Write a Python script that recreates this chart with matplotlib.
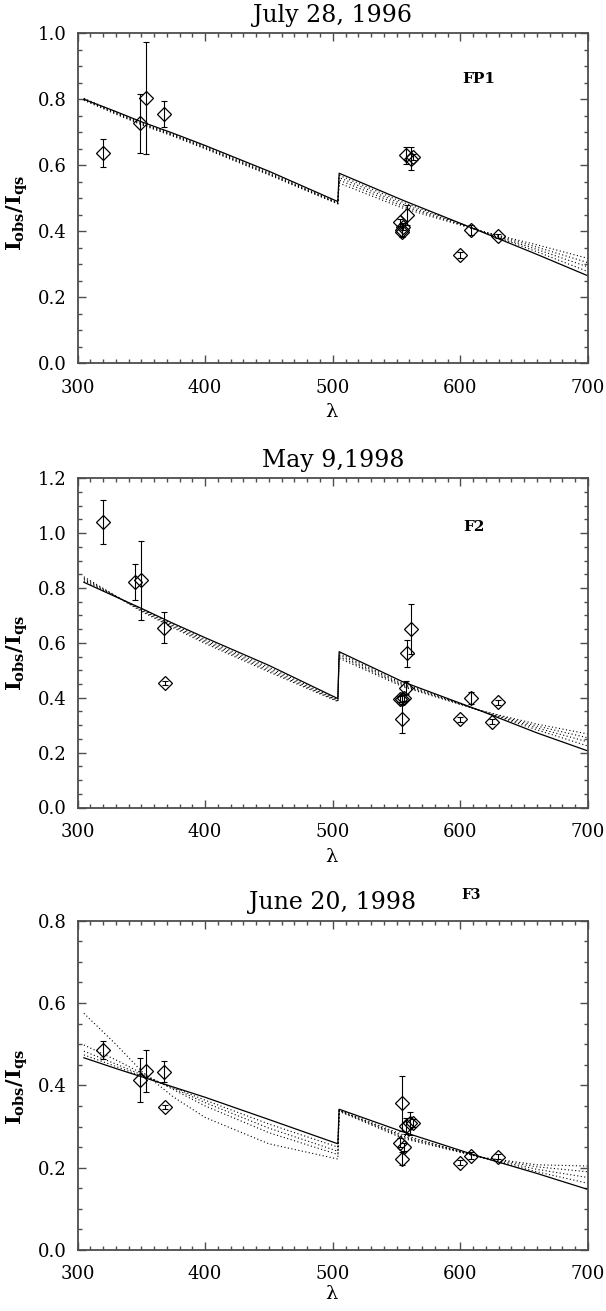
"""Observed vs model intensity ratio for three flare dates."""

import matplotlib
matplotlib.use("Agg")
import matplotlib.pyplot as plt
from matplotlib.ticker import MultipleLocator, FormatStrFormatter

plt.rcParams["font.family"] = ["DejaVu Serif"]
plt.rcParams["mathtext.fontset"] = "dejavuserif"

# ---- data ----
titles = ["July 28, 1996", "May 9,1998", "June 20, 1998"]
tags = ["FP1", "F2", "F3"]
y_tops = [1.0, 1.2, 0.8]

lam_left = [305, 330, 350, 375, 400, 450, 504]
lam_right = [505, 555, 615, 660, 700]

# panel 1: July 28, 1996
lam_obs_1 = [319.7, 349.3, 353.6, 368.0, 557.5, 561.0, 562.5, 557.8, 553.0,
             554.5, 555.0, 554.0, 608.0, 599.5, 629.8]
i_obs_1 = [0.638, 0.727, 0.805, 0.755, 0.630, 0.620, 0.625, 0.450, 0.427,
           0.405, 0.414, 0.397, 0.404, 0.328, 0.387]
err_1 = [0.042, 0.090, 0.170, 0.040, 0.026, 0.035, 0.010, 0.030, 0.010,
         0.020, 0.010, 0.015, 0.015, 0.008, 0.006]
solid_left_1 = [0.800, 0.763, 0.732, 0.697, 0.660, 0.582, 0.490]
solid_right_1 = [0.576, 0.494, 0.401, 0.330, 0.265]
dotted_left_1 = [
    [0.803, 0.761, 0.729, 0.694, 0.657, 0.578, 0.487],
    [0.801, 0.759, 0.727, 0.692, 0.654, 0.575, 0.485],
    [0.799, 0.757, 0.725, 0.690, 0.652, 0.573, 0.484],
    [0.797, 0.755, 0.723, 0.688, 0.650, 0.571, 0.483],
]
dotted_right_1 = [
    [0.570, 0.488, 0.402, 0.338, 0.278],
    [0.563, 0.482, 0.402, 0.345, 0.292],
    [0.555, 0.476, 0.402, 0.352, 0.305],
    [0.546, 0.470, 0.402, 0.359, 0.318],
]

# panel 2: May 9, 1998
lam_obs_2 = [319.7, 345.4, 349.9, 368.0, 368.7, 561.7, 558.1, 557.2, 552.6,
             554.5, 555.5, 554.2, 599.5, 608.0, 624.7, 629.8]
i_obs_2 = [1.041, 0.822, 0.828, 0.656, 0.453, 0.650, 0.562, 0.437, 0.395,
           0.397, 0.400, 0.324, 0.321, 0.398, 0.313, 0.383]
err_2 = [0.080, 0.065, 0.145, 0.055, 0.008, 0.090, 0.050, 0.024, 0.010,
         0.012, 0.010, 0.052, 0.010, 0.022, 0.010, 0.008]
solid_left_2 = [0.821, 0.768, 0.726, 0.671, 0.619, 0.518, 0.397]
solid_right_2 = [0.568, 0.458, 0.354, 0.272, 0.206]
dotted_left_2 = [
    [0.826, 0.770, 0.724, 0.667, 0.613, 0.511, 0.393],
    [0.831, 0.770, 0.721, 0.663, 0.608, 0.505, 0.390],
    [0.836, 0.771, 0.718, 0.659, 0.603, 0.499, 0.388],
    [0.841, 0.771, 0.715, 0.655, 0.598, 0.494, 0.386],
]
dotted_right_2 = [
    [0.562, 0.452, 0.354, 0.283, 0.224],
    [0.556, 0.448, 0.354, 0.290, 0.239],
    [0.550, 0.444, 0.354, 0.297, 0.254],
    [0.544, 0.440, 0.354, 0.304, 0.268],
]

# panel 3: June 20, 1998
lam_obs_3 = [319.7, 349.3, 353.6, 368.0, 368.7, 554.2, 557.2, 560.8, 562.6,
             552.6, 555.7, 554.2, 599.5, 608.0, 629.8]
i_obs_3 = [0.486, 0.413, 0.435, 0.433, 0.348, 0.356, 0.301, 0.308, 0.309,
           0.261, 0.251, 0.222, 0.212, 0.229, 0.227]
err_3 = [0.022, 0.053, 0.050, 0.026, 0.005, 0.067, 0.020, 0.028, 0.010,
         0.010, 0.010, 0.016, 0.006, 0.008, 0.006]
solid_left_3 = [0.467, 0.441, 0.421, 0.396, 0.371, 0.317, 0.258]
solid_right_3 = [0.342, 0.287, 0.227, 0.186, 0.147]
dotted_left_3 = [
    [0.575, 0.500, 0.435, 0.372, 0.322, 0.258, 0.221],
    [0.498, 0.462, 0.430, 0.390, 0.350, 0.285, 0.232],
    [0.483, 0.452, 0.426, 0.393, 0.358, 0.296, 0.240],
    [0.474, 0.446, 0.423, 0.395, 0.364, 0.306, 0.250],
]
dotted_right_3 = [
    [0.340, 0.280, 0.226, 0.190, 0.162],
    [0.339, 0.277, 0.226, 0.196, 0.176],
    [0.338, 0.274, 0.226, 0.202, 0.190],
    [0.337, 0.271, 0.226, 0.207, 0.204],
]

tag_pos = [(614.6, 0.862), (610.3, 1.021), (608.7, 0.862)]

panels = [
    (lam_obs_1, i_obs_1, err_1, solid_left_1, solid_right_1, dotted_left_1, dotted_right_1),
    (lam_obs_2, i_obs_2, err_2, solid_left_2, solid_right_2, dotted_left_2, dotted_right_2),
    (lam_obs_3, i_obs_3, err_3, solid_left_3, solid_right_3, dotted_left_3, dotted_right_3),
]

# ---- layout (figure fractions) ----
W, H = 606, 1311
ax_left = 77.5 / W
ax_width = 510.5 / W
ax_bottoms_px = [363.3, 807.5, 1250.0]
ax_heights_px = [330.0, 329.2, 329.3]
ylabel_y = [0.455, 0.47, 0.495]
xlabel_top_px = [40, 40, 35]
axis_grey = "0.3"

fig = plt.figure(figsize=(W / 100, H / 100), dpi=100)

for k, (lam_obs, i_obs, err, s_left, s_right, d_left, d_right) in enumerate(panels):
    bottom = (H - ax_bottoms_px[k]) / H
    height = ax_heights_px[k] / H
    ax = fig.add_axes([ax_left, bottom, ax_width, height])

    lam_model = lam_left + lam_right
    for dl, dr in zip(d_left, d_right):
        ax.plot(lam_model, dl + dr, color="black", lw=0.8, linestyle=(0, (1, 2.2)))
    ax.plot(lam_model, s_left + s_right, color="black", lw=0.9)

    ax.errorbar(lam_obs, i_obs, yerr=err, fmt="none", ecolor="black",
                elinewidth=0.8, capsize=2.5, capthick=0.8)
    ax.plot(lam_obs, i_obs, linestyle="none", marker="D", markersize=7.5,
            markerfacecolor="none", markeredgecolor="black", markeredgewidth=0.9)

    ax.set_xlim(300, 700)
    ax.set_ylim(0, y_tops[k])
    ax.xaxis.set_major_locator(MultipleLocator(100))
    ax.xaxis.set_minor_locator(MultipleLocator(10))
    ax.yaxis.set_major_locator(MultipleLocator(0.2))
    ax.yaxis.set_minor_locator(MultipleLocator(0.05))
    ax.yaxis.set_major_formatter(FormatStrFormatter("%.1f"))
    ax.tick_params(which="both", direction="in", top=True, right=True,
                   color=axis_grey, width=1.0, labelsize=13)
    ax.tick_params(which="major", length=6)
    ax.tick_params(which="minor", length=3.2)
    ax.tick_params(axis="x", which="major", pad=11)
    ax.tick_params(axis="y", which="major", pad=8)
    for spine in ax.spines.values():
        spine.set_color(axis_grey)
        spine.set_linewidth(1.3)

    ax.text(0.5, 1 + 18 / ax_heights_px[k], titles[k], transform=ax.transAxes,
            ha="center", va="center", fontsize=17)
    tag_size = 10 if k == 2 else 11
    ax.text(tag_pos[k][0], tag_pos[k][1], tags[k], ha="center", va="center",
            fontsize=tag_size, fontweight="bold", clip_on=False)

    ax.set_xlabel("λ", fontsize=14)
    ax.xaxis.set_label_coords(0.498, -xlabel_top_px[k] / ax_heights_px[k])
    ax.set_ylabel(r"$\mathbf{I_{obs}/I_{qs}}$", fontsize=15)
    ax.yaxis.set_label_coords(-0.094, ylabel_y[k])

fig.savefig("out.png", dpi=100, facecolor="white")
